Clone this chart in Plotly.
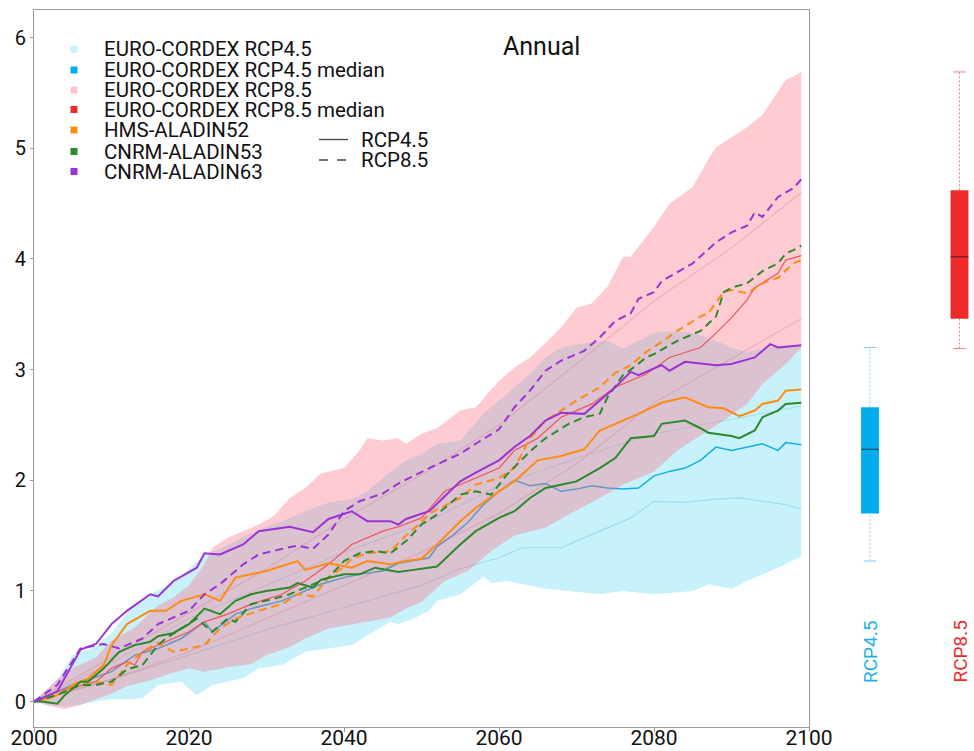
import plotly.graph_objects as go

# ---------------- data (year, value) ----------------
cyan_lo = [(2000,0),(2002,-0.03),(2004,-0.05),(2006,-0.03),(2008,0.0),(2010,0.02),(2012,0.02),(2014,0.03),
           (2016,0.15),(2019,0.18),(2021,0.06),(2023,0.15),(2027,0.21),(2029,0.30),(2032,0.33),(2035,0.45),
           (2038,0.48),(2041,0.51),(2043,0.60),(2046,0.72),(2047,0.70),(2049,0.75),(2051,0.82),(2052,0.91),
           (2055,0.97),(2056,1.02),(2058,1.13),(2059,1.07),(2061,1.09),(2063,1.06),(2066,1.02),(2069,1.00),
           (2073,0.97),(2076,1.00),(2080,0.97),(2082,0.98),(2085,1.00),(2087,1.06),(2090,1.02),(2092,1.09),
           (2094,1.15),(2096,1.21),(2099,1.31)]
cyan_hi = [(2000,0),(2003,0.20),(2005,0.42),(2008,0.50),(2010,0.62),(2012,0.80),(2015,0.97),(2018,1.08),
           (2020,1.20),(2022,1.33),(2024,1.38),(2026,1.45),(2028,1.52),(2030,1.58),(2033,1.66),(2035,1.72),
           (2038,1.80),(2041,1.83),(2043,1.90),(2046,2.08),(2048,2.18),(2050,2.24),(2052,2.33),(2055,2.36),
           (2058,2.60),(2060,2.72),(2062,2.84),(2064,2.96),(2066,3.11),(2068,3.20),(2071,3.24),(2074,3.26),
           (2076,3.19),(2080,3.33),(2082,3.35),(2085,3.33),(2088,3.26),(2090,3.20),(2092,3.16),(2094,3.19),
           (2096,3.21),(2099,3.22)]
pink_lo = [(2000,0),(2002,-0.04),(2004,-0.07),(2006,-0.03),(2008,0.02),(2010,0.07),(2012,0.14),(2015,0.19),
           (2017,0.24),(2020,0.30),(2022,0.27),(2025,0.31),(2028,0.34),(2030,0.42),(2033,0.49),(2035,0.57),
           (2038,0.66),(2041,0.70),(2043,0.72),(2046,0.76),(2048,0.84),(2050,0.90),(2053,1.09),(2056,1.18),
           (2059,1.36),(2062,1.50),(2066,1.57),(2069,1.69),(2073,1.84),(2076,1.96),(2080,2.08),(2083,2.27),
           (2087,2.45),(2089,2.54),(2092,2.69),(2094,2.87),(2097,3.05),(2099,3.20)]
pink_hi = [(2000,0),(2003,0.20),(2005,0.30),(2008,0.40),(2010,0.55),(2013,0.67),(2016,0.87),(2018,0.94),
           (2020,1.05),(2022,1.24),(2023,1.39),(2025,1.48),(2027,1.54),(2029,1.60),(2031,1.68),(2033,1.84),
           (2035,1.93),(2037,2.06),(2040,2.11),(2042,2.27),(2043,2.38),(2045,2.36),(2047,2.38),(2048,2.33),
           (2050,2.42),(2052,2.47),(2055,2.63),(2057,2.66),(2060,2.90),(2062,3.02),(2064,3.11),(2066,3.24),
           (2068,3.38),(2070,3.56),(2072,3.60),(2074,3.75),(2076,4.02),(2077,4.02),(2080,4.29),(2082,4.50),
           (2085,4.65),(2087,4.90),(2088,5.01),(2090,5.10),(2092,5.19),(2094,5.30),(2095,5.41),(2097,5.62),
           (2098,5.65),(2099,5.69)]
cyan_q1 = [(2000,0),(2010,0.20),(2020,0.42),(2030,0.65),(2040,0.85),(2050,1.05),(2055,1.20),(2060,1.30),
           (2063,1.39),(2068,1.39),(2070,1.45),(2074,1.57),(2077,1.66),(2080,1.81),(2084,1.80),(2088,1.83),
           (2091,1.84),(2094,1.81),(2097,1.78),(2099,1.74)]
cyan_q3 = [(2000,0),(2010,0.35),(2020,0.75),(2030,1.05),(2040,1.35),(2050,1.60),(2060,1.95),(2070,2.20),
           (2080,2.42),(2090,2.55),(2099,2.67)]
pink_q1 = [(2000,0),(2010,0.20),(2020,0.45),(2030,0.75),(2040,1.05),(2050,1.35),(2060,1.70),(2070,2.15),
           (2080,2.70),(2090,3.10),(2099,3.46)]
pink_q3 = [(2000,0),(2010,0.40),(2020,0.80),(2030,1.20),(2040,1.65),(2050,2.05),(2060,2.50),(2070,3.05),
           (2080,3.62),(2090,4.10),(2099,4.60)]
median45 = [(2000,0),(2005,0.15),(2010,0.27),(2013,0.42),(2016,0.48),(2019,0.57),(2022,0.72),(2023,0.63),
            (2026,0.79),(2028,0.84),(2032,0.91),(2034,0.97),(2037,1.06),(2040,1.12),(2042,1.15),(2045,1.18),
            (2047,1.25),(2051,1.30),(2052,1.40),(2054,1.50),(2056,1.62),(2058,1.78),(2060,1.90),(2062,2.00),
            (2064,1.95),(2066,1.97),(2068,1.90),(2070,1.92),(2072,1.95),(2074,1.93),(2076,1.92),(2078,1.93),
            (2080,2.04),(2082,2.08),(2084,2.11),(2086,2.18),(2088,2.30),(2090,2.27),(2092,2.30),(2094,2.33),
            (2096,2.27),(2097,2.34),(2099,2.32)]
median85 = [(2000,0),(2003,0.09),(2008,0.18),(2010,0.30),(2012,0.36),(2013,0.33),(2014,0.45),(2017,0.54),
            (2020,0.63),(2022,0.72),(2025,0.79),(2028,0.88),(2032,0.97),(2035,1.09),(2038,1.24),(2041,1.42),
            (2045,1.54),(2047,1.58),(2050,1.66),(2053,1.90),(2057,2.02),(2060,2.11),(2062,2.27),(2065,2.38),
            (2068,2.57),(2072,2.69),(2075,2.84),(2079,2.96),(2082,3.11),(2086,3.20),(2088,3.33),(2090,3.47),
            (2092,3.63),(2093,3.74),(2096,3.87),(2097,3.99),(2099,4.03)]
hms45 = [(2000,0),(2002,0.03),(2004,0.09),(2005,0.15),(2007,0.21),(2009,0.33),(2010,0.51),(2012,0.70),
         (2015,0.82),(2017,0.82),(2019,0.91),(2022,0.97),(2024,0.91),(2026,1.12),(2028,1.15),(2030,1.18),
         (2034,1.27),(2035,1.19),(2038,1.25),(2041,1.21),(2043,1.27),(2046,1.24),(2048,1.27),(2050,1.29),
         (2052,1.42),(2055,1.63),(2057,1.75),(2060,1.90),(2062,1.99),(2065,2.18),(2068,2.22),(2071,2.28),
         (2073,2.45),(2075,2.51),(2078,2.60),(2081,2.70),(2084,2.75),(2087,2.66),(2089,2.65),(2091,2.58),
         (2093,2.63),(2094,2.69),(2096,2.72),(2097,2.81),(2099,2.82)]
hms85 = [(2000,0),(2003,0.06),(2006,0.15),(2008,0.18),(2010,0.15),(2012,0.33),(2014,0.45),(2016,0.53),
         (2018,0.45),(2020,0.48),(2022,0.51),(2024,0.66),(2026,0.75),(2029,0.82),(2032,0.88),(2034,0.97),
         (2036,0.95),(2038,1.12),(2040,1.22),(2041,1.29),(2043,1.34),(2046,1.36),(2048,1.50),(2050,1.62),
         (2051,1.70),(2055,1.84),(2057,1.96),(2060,2.02),(2062,2.11),(2064,2.38),(2066,2.54),(2068,2.63),
         (2070,2.72),(2073,2.84),(2075,2.97),(2077,3.04),(2079,3.16),(2081,3.25),(2083,3.35),(2086,3.48),
         (2087,3.51),(2089,3.70),(2090,3.72),(2092,3.69),(2094,3.78),(2096,3.83),(2098,3.96),(2099,3.99)]
cnrm53_45 = [(2000,0),(2001,0.0),(2003,-0.02),(2004,0.06),(2006,0.18),(2007,0.18),(2009,0.30),(2011,0.45),
             (2013,0.51),(2015,0.54),(2016,0.59),(2018,0.62),(2020,0.70),(2022,0.84),(2024,0.79),(2026,0.91),
             (2028,0.97),(2030,1.00),(2033,1.03),(2034,1.07),(2036,1.03),(2037,1.10),(2040,1.15),(2042,1.15),
             (2044,1.21),(2047,1.17),(2049,1.19),(2052,1.22),(2055,1.42),(2057,1.54),(2060,1.66),(2062,1.72),
             (2064,1.84),(2066,1.93),(2068,1.96),(2070,1.99),(2073,2.11),(2075,2.20),(2077,2.38),(2080,2.40),
             (2081,2.51),(2084,2.54),(2086,2.47),(2087,2.43),(2090,2.40),(2091,2.38),(2093,2.45),(2094,2.57),
             (2096,2.63),(2097,2.69),(2099,2.70)]
cnrm53_85 = [(2000,0),(2003,0.06),(2006,0.15),(2008,0.15),(2010,0.18),(2012,0.29),(2014,0.33),(2016,0.51),
             (2017,0.57),(2019,0.66),(2021,0.75),(2023,0.63),(2025,0.75),(2026,0.72),(2028,0.88),(2031,0.93),
             (2033,0.97),(2035,1.03),(2036,1.06),(2038,1.12),(2040,1.27),(2042,1.34),(2044,1.36),(2046,1.34),
             (2048,1.45),(2050,1.60),(2052,1.69),(2055,1.87),(2057,1.90),(2059,1.87),(2061,2.05),(2064,2.26),
             (2066,2.38),(2069,2.51),(2071,2.57),(2073,2.60),(2074,2.75),(2076,2.95),(2077,3.00),(2079,3.11),
             (2080,3.14),(2083,3.26),(2086,3.35),(2088,3.48),(2089,3.70),(2090,3.74),(2092,3.78),(2094,3.89),
             (2096,3.96),(2097,4.05),(2098,4.08),(2099,4.12)]
cnrm63_45 = [(2000,0),(2003,0.09),(2006,0.47),(2008,0.52),(2010,0.70),(2012,0.82),(2015,0.97),(2016,0.95),
             (2018,1.09),(2021,1.21),(2022,1.34),(2024,1.33),(2027,1.42),(2029,1.54),(2033,1.58),(2036,1.53),
             (2038,1.65),(2041,1.72),(2043,1.63),(2046,1.63),(2047,1.60),(2048,1.65),(2051,1.72),(2055,1.99),
             (2057,2.07),(2060,2.18),(2062,2.30),(2064,2.40),(2066,2.54),(2068,2.61),(2071,2.60),(2073,2.72),
             (2075,2.84),(2077,2.98),(2078,2.95),(2081,3.04),(2082,2.99),(2084,3.07),(2088,3.04),(2090,3.05),
             (2093,3.11),(2095,3.23),(2096,3.20),(2099,3.22)]
cnrm63_85 = [(2000,0),(2003,0.15),(2006,0.48),(2009,0.52),(2011,0.48),(2014,0.57),(2016,0.70),(2019,0.79),
             (2020,0.82),(2022,0.97),(2024,1.06),(2027,1.24),(2029,1.33),(2032,1.38),(2034,1.41),(2036,1.38),
             (2038,1.51),(2040,1.72),(2042,1.81),(2045,1.88),(2047,1.97),(2051,2.11),(2055,2.24),(2057,2.33),
             (2060,2.46),(2062,2.66),(2064,2.81),(2066,2.99),(2068,3.08),(2071,3.17),(2073,3.29),(2075,3.44),
             (2077,3.51),(2078,3.64),(2080,3.70),(2081,3.80),(2083,3.88),(2085,3.96),(2088,4.15),(2090,4.24),
             (2092,4.30),(2093,4.42),(2094,4.38),(2096,4.56),(2098,4.64),(2099,4.72)]

# box summary of 2099 values
box_names = ["RCP4.5", "RCP8.5"]
box_low = [1.27, 3.19]
box_q1 = [1.70, 3.46]
box_median = [2.28, 4.02]
box_q3 = [2.66, 4.62]
box_high = [3.20, 5.69]

legend_labels = ["EURO-CORDEX RCP4.5", "EURO-CORDEX RCP4.5 median", "EURO-CORDEX RCP8.5",
                 "EURO-CORDEX RCP8.5 median", "HMS-ALADIN52", "CNRM-ALADIN53", "CNRM-ALADIN63"]
x_ticks = [2000, 2020, 2040, 2060, 2080, 2100]
y_ticks = [0, 1, 2, 3, 4, 5, 6]

# ---------------- styles ----------------
C_CYAN = "#c8f2fb"
C_BLUE = "#12aee8"
C_PINK_FILL = "rgba(255,105,130,0.35)"
C_PINK_LEG = "#ffc6d0"
C_RED = "#ee2b2b"
C_ORANGE = "#ff8c12"
C_GREEN = "#2a8a2a"
C_PURPLE = "#9b32d6"
FONT = "Roboto"
DASH = "8px,5px"

def xs(s):
    return [p[0] for p in s]

def ys(s):
    return [p[1] for p in s]

fig = go.Figure()

def band(lo, hi, color):
    fig.add_trace(go.Scatter(x=xs(lo) + xs(hi)[::-1], y=ys(lo) + ys(hi)[::-1], fill="toself",
                             fillcolor=color, line=dict(width=0), mode="lines",
                             hoverinfo="skip", showlegend=False))

def line(s, color, width=2.0, dash="solid"):
    fig.add_trace(go.Scatter(x=xs(s), y=ys(s), mode="lines",
                             line=dict(color=color, width=width, dash=dash),
                             showlegend=False))

band(cyan_lo, cyan_hi, C_CYAN)
line(cyan_q1, "rgba(110,190,225,0.45)", 1.2)
line(cyan_q3, "rgba(110,190,225,0.35)", 1.2)
line(median45, C_BLUE, 1.5)
line(median85, "#e8464c", 1.2)
band(pink_lo, pink_hi, C_PINK_FILL)
line(pink_q1, "rgba(215,120,140,0.35)", 1.2)
line(pink_q3, "rgba(215,120,140,0.35)", 1.2)

line(hms45, C_ORANGE)
line(hms85, C_ORANGE, dash=DASH)
line(cnrm53_45, C_GREEN)
line(cnrm53_85, C_GREEN, dash=DASH)
line(cnrm63_45, C_PURPLE)
line(cnrm63_85, C_PURPLE, dash=DASH)

# ---------------- box plots (right panel) ----------------
box_fill = ["#00aeef", "#ee2b2b"]
box_whisk = ["#86c9ee", "#f08080"]
box_med = ["#1f3a4a", "#5a1a1a"]
pos = list(range(len(box_names)))
fig.add_trace(go.Bar(x=pos, y=[h - l for l, h in zip(box_q1, box_q3)], base=box_q1,
                     width=0.2, marker=dict(color=box_fill, line=dict(width=0)),
                     xaxis="x2", yaxis="y", showlegend=False))
for i in pos:
    for a, b in [(box_q3[i], box_high[i]), (box_low[i], box_q1[i])]:
        fig.add_trace(go.Scatter(x=[i, i], y=[a, b], mode="lines", xaxis="x2", yaxis="y",
                                 line=dict(color=box_whisk[i], width=1, dash="2px,2px"), showlegend=False))
    for v in (box_low[i], box_high[i]):
        fig.add_trace(go.Scatter(x=[i - 0.07, i + 0.07], y=[v, v], mode="lines", xaxis="x2", yaxis="y",
                                 line=dict(color=box_whisk[i], width=1), showlegend=False))
    fig.add_trace(go.Scatter(x=[i - 0.1, i + 0.1], y=[box_median[i]] * 2, mode="lines", xaxis="x2",
                             yaxis="y", line=dict(color=box_med[i], width=1.2), showlegend=False))

# ---------------- layout ----------------
L, R, T, B = 34, 972, 10, 727
W, H = R - L, B - T

def px(x):
    return (x - L) / W

def py(y):
    return (B - y) / H

annotations = []
shapes = []
leg_colors = [C_CYAN, "#00aeef", C_PINK_LEG, C_RED, C_ORANGE, C_GREEN, C_PURPLE]
leg_rows = [49.3, 70, 90, 109.5, 130, 151.5, 171.5]
for lab, col, yy in zip(legend_labels, leg_colors, leg_rows):
    shapes.append(dict(type="rect", xref="paper", yref="paper", x0=px(70.5), x1=px(77.5),
                       y0=py(yy + 3.5), y1=py(yy - 3.5), fillcolor=col, line=dict(width=0)))
    annotations.append(dict(text=lab, xref="paper", yref="paper", x=px(102), y=py(yy),
                            xanchor="left", yanchor="middle", showarrow=False,
                            font=dict(family=FONT, size=20.5, color="#111")))
for lab, dsh, yy in [("RCP4.5", "solid", 139.5), ("RCP8.5", "dash", 160)]:
    shapes.append(dict(type="line", xref="paper", yref="paper", x0=px(319), x1=px(348),
                       y0=py(yy), y1=py(yy), line=dict(color="#444", width=1.3, dash=dsh)))
    annotations.append(dict(text=lab, xref="paper", yref="paper", x=px(359), y=py(yy),
                            xanchor="left", yanchor="middle", showarrow=False,
                            font=dict(family=FONT, size=20.5, color="#111")))
annotations.append(dict(text="Annual", xref="paper", yref="paper", x=px(541), y=py(46),
                        xanchor="center", yanchor="middle", showarrow=False,
                        font=dict(family=FONT, size=25, color="#111")))
label_cols = ["#1ab0e8", "#ee2b2b"]
for i, nm in enumerate(box_names):
    annotations.append(dict(text=nm, xref="x2", yref="paper", x=i, y=py(652), textangle=-90,
                            xanchor="center", yanchor="middle", showarrow=False,
                            font=dict(family=FONT, size=19, color=label_cols[i])))

main_end = (809 - L) / W
box_start = (831.3 - L) / W
fig.update_layout(
    width=974, height=751,
    margin=dict(l=L, r=974 - R, t=T, b=751 - B, autoexpand=False),
    paper_bgcolor="white", plot_bgcolor="white",
    font=dict(family=FONT, color="#111"),
    showlegend=False,
    xaxis=dict(domain=[0, main_end], range=[2000, 2100], tickvals=x_ticks, showgrid=False,
               zeroline=False, showline=True, linecolor="#9a9a9a", linewidth=1, mirror=True,
               ticks="outside", ticklen=4, tickcolor="#9a9a9a", automargin=False,
               ticklabelstandoff=-12,
               tickfont=dict(family=FONT, size=21, color="#111")),
    yaxis=dict(range=[-0.23, 6.25], tickvals=y_ticks, showgrid=False, zeroline=False,
               showline=True, linecolor="#9a9a9a", linewidth=1, mirror=True,
               ticks="outside", ticklen=3, tickcolor="#9a9a9a", automargin=False,
               tickfont=dict(family=FONT, size=20, color="#111")),
    xaxis2=dict(domain=[box_start, 1], range=[-0.4324, 1.1397], visible=False, anchor="y",
                automargin=False),
    annotations=annotations, shapes=shapes,
)

fig.write_html("out.html", config={"displayModeBar": False},
               post_script="document.body.style.margin='0';")
